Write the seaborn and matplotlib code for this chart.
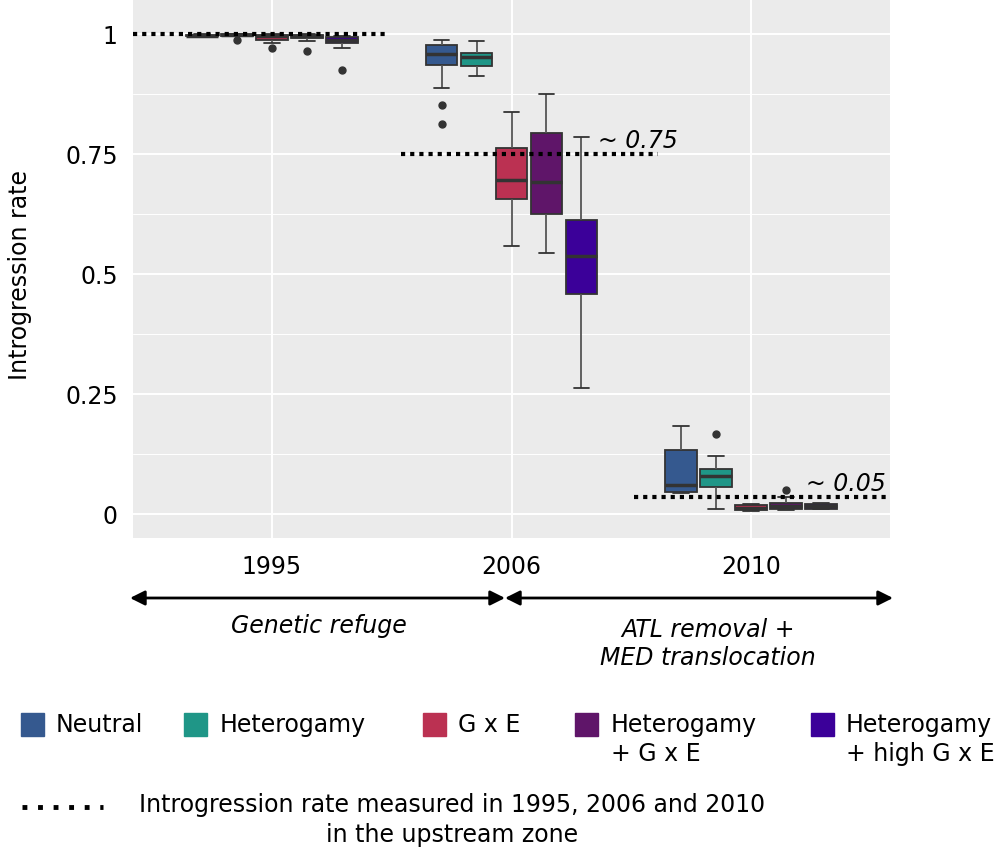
import matplotlib
matplotlib.use('Agg')
import matplotlib.pyplot as plt
from matplotlib.patches import Rectangle, FancyArrowPatch
from matplotlib.lines import Line2D
from matplotlib.ticker import MultipleLocator
import pandas as pd
import seaborn as sns

years = ['1995', '2006', '2010']
models = ['Neutral', 'Heterogamy', 'G x E', 'Heterogamy\n+ G x E', 'Heterogamy\n+ high G x E']
colors = ['#35598f', '#1f9687', '#bb3152', '#5f1569', '#3b0099']

rates_1995 = [
    [0.994, 0.994, 0.995, 0.996, 0.997, 0.998, 0.999, 1.0, 1.0],
    [0.988, 0.995, 0.996, 0.997, 0.998, 0.999, 0.9995, 1.0, 1.0],
    [0.970, 0.981, 0.988, 0.992, 0.995, 0.997, 0.999, 1.0, 1.0],
    [0.965, 0.986, 0.991, 0.994, 0.996, 0.998, 0.999, 1.0, 1.0],
    [0.926, 0.970, 0.982, 0.985, 0.9875, 0.991, 0.994, 0.997, 0.997],
]
rates_2006 = [
    [0.812, 0.852, 0.887, 0.935, 0.940, 0.950, 0.958, 0.965, 0.970, 0.977, 0.982, 0.9875, 0.9875],
    [0.913, 0.913, 0.933, 0.943, 0.953, 0.957, 0.961, 0.985, 0.985],
    [0.558, 0.558, 0.657, 0.680, 0.697, 0.730, 0.763, 0.837, 0.837],
    [0.543, 0.543, 0.626, 0.660, 0.692, 0.740, 0.794, 0.875, 0.875],
    [0.263, 0.263, 0.459, 0.500, 0.538, 0.580, 0.612, 0.785, 0.785],
]
rates_2010 = [
    [0.043, 0.043, 0.045, 0.052, 0.060, 0.100, 0.133, 0.183, 0.183],
    [0.010, 0.010, 0.057, 0.068, 0.0785, 0.085, 0.094, 0.121, 0.167],
    [0.006, 0.006, 0.008, 0.010, 0.013, 0.016, 0.019, 0.020, 0.020],
    [0.008, 0.008, 0.010, 0.014, 0.017, 0.020, 0.024, 0.035, 0.050],
    [0.010, 0.010, 0.011, 0.013, 0.016, 0.019, 0.0215, 0.022, 0.022],
]

# upstream zone measurements (dotted lines)
ref_rates = [1.0, 0.75, 0.035]
ref_labels = [None, '~ 0.75', '~ 0.05']

rows = []
for year, group in zip(years, [rates_1995, rates_2006, rates_2010]):
    for model, vals in zip(models, group):
        for v in vals:
            rows.append((year, model, v))
df = pd.DataFrame(rows, columns=['year', 'model', 'rate'])

sns.set_style('darkgrid', {'axes.facecolor': '#EBEBEB', 'grid.color': 'white'})
plt.rcParams['font.family'] = ['DejaVu Sans']
plt.rcParams['text.color'] = 'black'
plt.rcParams['axes.labelcolor'] = 'black'

fig = plt.figure(figsize=(10, 8.5), dpi=100)
ax = fig.add_axes([0.133, 0.367, 0.757, 0.633])

sns.boxplot(data=df, x='year', y='rate', hue='model', order=years, hue_order=models,
            palette=colors, saturation=1, width=0.73, gap=0.1, linecolor='#333333',
            linewidth=1.3, legend=False, ax=ax,
            whiskerprops={'color': '#555555'},
            medianprops={'color': '#333333', 'linewidth': 2.5},
            flierprops={'marker': 'o', 'markerfacecolor': '#333333',
                        'markeredgecolor': '#333333', 'markersize': 5})

# dotted reference lines, spans relative to each category centre
spans = [(-0.58, 0.49), (-0.46, 0.61), (-0.49, 0.58)]
for i, (r, (a, b)) in enumerate(zip(ref_rates, spans)):
    ax.plot([i + a, i + b], [r, r], color='black', lw=3, linestyle=(0, (1, 1.2)),
            solid_capstyle='butt', dash_capstyle='butt', zorder=5)
ax.text(1.36, 0.752, ref_labels[1], style='italic', fontsize=17, ha='left', va='bottom')
ax.text(2.23, 0.037, ref_labels[2], style='italic', fontsize=17, ha='left', va='bottom')

ax.set_xlim(-0.58, 2.58)
ax.set_ylim(-0.05, 1.071)
ax.set_yticks([0, 0.25, 0.5, 0.75, 1])
ax.set_yticklabels(['0', '0.25', '0.5', '0.75', '1'])
ax.yaxis.set_minor_locator(MultipleLocator(0.125))
ax.grid(which='major', color='white', lw=1.4)
ax.grid(which='minor', axis='y', color='white', lw=0.7)
ax.tick_params(axis='both', which='major', length=4, width=1.1, color='#444444',
               labelsize=17, labelcolor='black')
ax.tick_params(axis='y', pad=7)
ax.tick_params(axis='x', pad=8)
ax.tick_params(which='minor', length=0)
ax.set_xlabel('')
ax.set_ylabel('Introgression rate', fontsize=17)
ax.yaxis.set_label_coords(-0.134, 0.489)
for s in ax.spines.values():
    s.set_visible(False)

# time periods below the axis
ya = 1 - 598 / 850
for x0, x1 in [(0.130, 0.505), (0.505, 0.893)]:
    fig.patches.append(FancyArrowPatch((x0, ya), (x1, ya), transform=fig.transFigure,
                                       arrowstyle='<|-|>', mutation_scale=22, lw=2,
                                       color='black', shrinkA=0, shrinkB=0))
fig.text(0.319, 1 - 626 / 850, 'Genetic refuge', style='italic', fontsize=17,
         ha='center', va='center')
fig.text(0.708, 1 - 644 / 850, 'ATL removal +\nMED translocation', style='italic',
         fontsize=17, ha='center', va='center', linespacing=1.25)

# legend drawn by hand
sq_x = [21, 184, 423, 575, 811]
lab_x = [56, 220, 458, 611, 846]
for c, m, sx, lx in zip(colors, models, sq_x, lab_x):
    fig.patches.append(Rectangle((sx / 1000, 1 - 736 / 850), 23 / 1000, 23 / 850,
                                 transform=fig.transFigure, color=c))
    fig.text(lx / 1000, 1 - 713 / 850, m, fontsize=17, ha='left', va='top', linespacing=1.25)

fig.lines.append(Line2D([0.022, 0.103], [1 - 807 / 850, 1 - 807 / 850], transform=fig.transFigure,
                        color='black', lw=3.5, linestyle=(0, (1, 2.2))))
fig.text(0.452, 1 - 820 / 850, 'Introgression rate measured in 1995, 2006 and 2010\nin the upstream zone',
         fontsize=17, ha='center', va='center', linespacing=1.3)

fig.savefig('out.png', dpi=100)
